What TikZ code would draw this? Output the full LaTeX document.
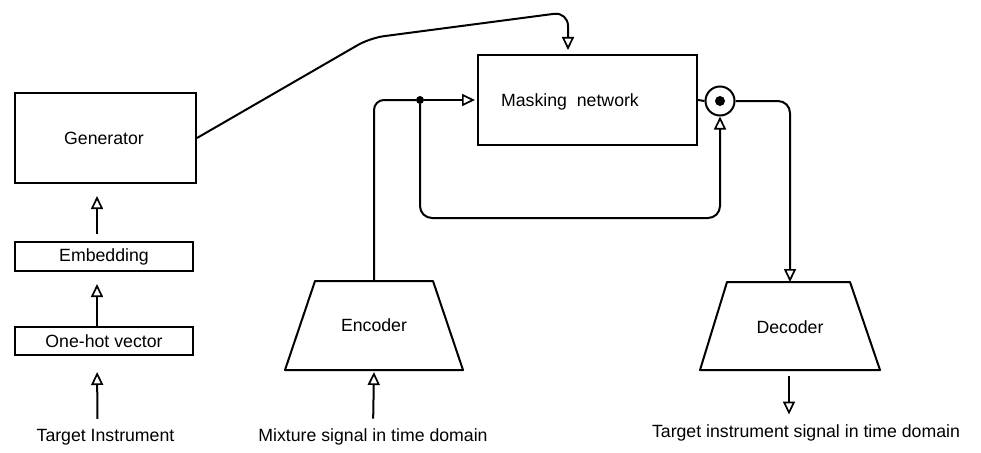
\documentclass[tikz,border=0pt]{standalone}
\usepackage{fontspec}
\setmainfont{Liberation Sans}
\usetikzlibrary{arrows.meta,calc}
\begin{document}
\begin{tikzpicture}[x=1pt,y=-1pt,
  every node/.style={font=\fontsize{17.7}{21}\selectfont},
  box/.style={draw,line width=2pt,inner sep=0pt},
  shp/.style={draw,line width=2pt,line join=round},
  lbl/.style={inner sep=0pt},
  wire/.style={line width=2pt},
  arr/.style={wire,-{Triangle[open,length=13pt,width=12pt,line width=1.7pt]}}]
\useasboundingbox (0,0) rectangle (981,452);
% left column
\node[box,minimum width=181pt,minimum height=90pt] (gen) at (105.5,138) {};
\node[lbl] (gentxt) at (104,138) {Generator};
\node[box,minimum width=178pt,minimum height=29pt] (emb) at (104,256.5) {Embedding};
\node[box,minimum width=178pt,minimum height=28pt] (onehot) at (104,341) {One-hot vector};
\node[lbl] (ti) at (105.5,437) {Target Instrument};
% masking network
\node[box,minimum width=219pt,minimum height=90pt] (mask) at (587.5,100) {};
\node[lbl] (masktxt) at (570,102) {Masking\ \ network};
% encoder / decoder (trapezia)
\draw[shp] (315,281) -- (433,281) -- (463,370) -- (285,370) -- cycle;
\node[lbl] (enc) at (374,325.5) {Encoder};
\coordinate (encN) at (374,281);
\coordinate (encS) at (374,370);
\draw[shp] (727,282) -- (850,282) -- (880,370) -- (700,370) -- cycle;
\node[lbl] (dec) at (790,327) {Decoder};
\coordinate (decN) at (790,282);
\coordinate (decS) at (789,370);
\node[lbl] (mix) at (373,437) {Mixture signal in time domain};
\node[lbl] (tis) at (806,433) {Target instrument signal in time domain};
% operators
\node[circle,draw,line width=2pt,minimum size=29pt,inner sep=0pt] (odot) at (720,101) {};
\fill (odot.center) circle (5pt);
\node[circle,fill,minimum size=8pt,inner sep=0pt] (junc) at (420,100) {};
\coordinate (topy) at (0,12);
\coordinate (lowy) at (0,218);
\coordinate (bend) at (370,38);
% connectors
\draw[arr,shorten <=10pt,shorten >=16pt] ([xshift=-8pt]ti.north) -- ([xshift=-7pt]onehot.south);
\draw[arr,shorten >=12pt] ([xshift=-7pt]onehot.north) -- ([xshift=-7pt]emb.south);
\draw[arr,shorten <=7pt,shorten >=12pt] ([xshift=-7pt]emb.north) -- ([xshift=-8.5pt]gen.south);
\draw[arr,rounded corners=14pt,shorten >=4pt] (gen.east) -- (bend) -- ([xshift=-19.5pt]mask.north |- topy) -- ([xshift=-19.5pt]mask.north);
\draw[wire,rounded corners=10pt] (encN) |- (junc);
\draw[arr,shorten >=2pt] (junc) -- (mask.west);
\draw[arr,rounded corners=12pt] (junc) |- (odot.south |- lowy) -- (odot.south);
\draw[wire] (mask.east) -- (odot.west);
\draw[arr,rounded corners=12pt] (odot.east) -| (decN);
\draw[arr,shorten <=6pt,shorten >=10pt] (decS) -- (decS |- tis.north);
\draw[arr,shorten <=10pt,shorten >=2pt] (mix.north) -- (encS);
\end{tikzpicture}
\end{document}
